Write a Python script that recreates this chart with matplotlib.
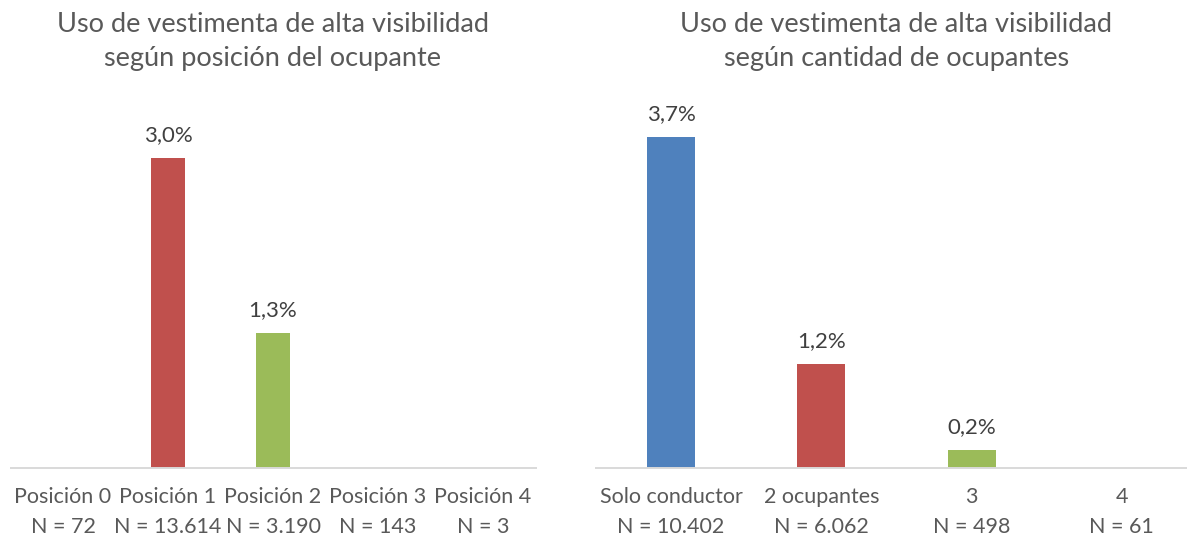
import matplotlib
matplotlib.use("Agg")
import matplotlib.pyplot as plt

plt.rcParams["font.family"] = ["Lato", "DejaVu Sans"]

# left chart: by occupant position
pos_cats = ["Posición 0", "Posición 1", "Posición 2", "Posición 3", "Posición 4"]
pos_n = ["72", "13.614", "3.190", "143", "3"]
pos_vals = [0.0, 3.0, 1.31, 0.0, 0.0]
pos_title = "Uso de vestimenta de alta visibilidad\nsegún posición del ocupante"

# right chart: by number of occupants
occ_cats = ["Solo conductor", "2 ocupantes", "3", "4"]
occ_n = ["10.402", "6.062", "498", "61"]
occ_vals = [3.7, 1.16, 0.2, 0.0]
occ_title = "Uso de vestimenta de alta visibilidad\nsegún cantidad de ocupantes"

BLUE = "#4F81BD"
RED = "#C0504D"
GREEN = "#9BBB59"
PURPLE = "#8064A2"
AQUA = "#4BACC6"

W, H = 1187, 540
fig = plt.figure(figsize=(W / 100, H / 100), dpi=100)


def draw(rect, cats, ns, vals, colors, ymax, title, width):
    ax = fig.add_axes(rect)
    x = list(range(len(cats)))
    ax.bar(x, vals, width=width, color=colors)
    for xi, v in zip(x, vals):
        if v > 0:
            ax.annotate(f"{v:.1f}%".replace(".", ","), (xi, v),
                        xytext=(0, 12), textcoords="offset points",
                        ha="center", va="baseline",
                        fontsize=16, color="#404040")
    ax.set_xlim(-0.5, len(cats) - 0.5)
    ax.set_ylim(0, ymax)
    ax.set_yticks([])
    ax.set_xticks(x)
    ax.set_xticklabels([f"{c}\nN = {n}" for c, n in zip(cats, ns)],
                       fontsize=15.5, color="#595959", linespacing=1.62)
    ax.tick_params(axis="x", length=0, pad=14)
    for s in ["top", "left", "right"]:
        ax.spines[s].set_visible(False)
    ax.spines["bottom"].set_color("#D9D9D9")
    ax.spines["bottom"].set_linewidth(1.4)
    cx = rect[0] + rect[2] / 2
    fig.text(cx, 1 - 12 / H, title, ha="center", va="top",
             fontsize=19.5, color="#595959", linespacing=1.45)
    return ax


base = 1 - 468 / H
h = 368 / H
draw([10.5 / W, base, 525 / W, h], pos_cats, pos_n, pos_vals,
     [BLUE, RED, GREEN, PURPLE, AQUA], 3.0 * 368 / 310, pos_title, 0.32)
draw([596 / W, base, 601 / W, h], occ_cats, occ_n, occ_vals,
     [BLUE, RED, GREEN, PURPLE], 3.7 * 368 / 331, occ_title, 0.32)

fig.savefig("out.png", dpi=100)
